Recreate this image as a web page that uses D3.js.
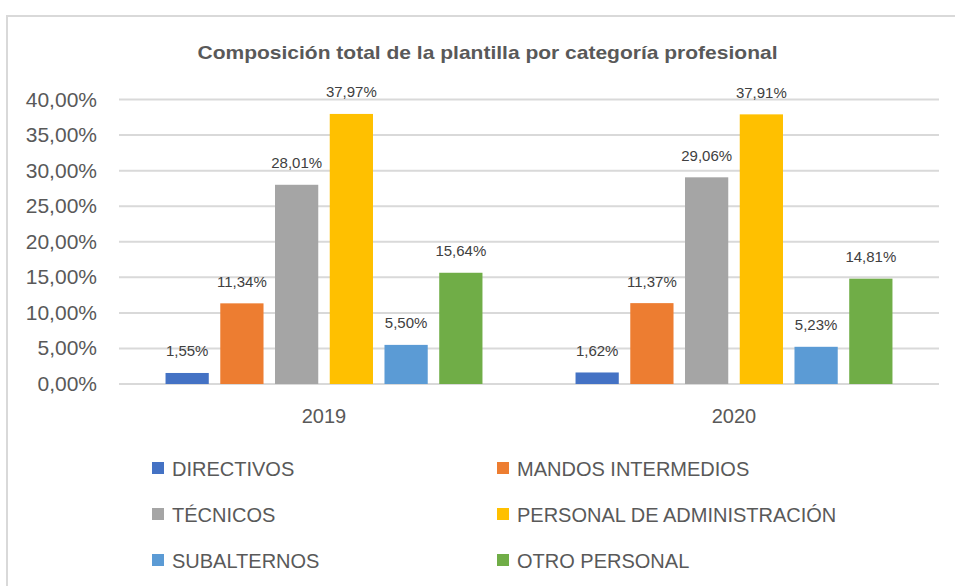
<!DOCTYPE html>
<html><head><meta charset="utf-8">
<script src="https://cdn.jsdelivr.net/npm/d3@7"></script>
<style>body{margin:0;background:#fff;}svg{display:block;}</style>
</head><body>
<script>
const years = ["2019", "2020"];
const categories = ["DIRECTIVOS", "MANDOS INTERMEDIOS", "TÉCNICOS", "PERSONAL DE ADMINISTRACIÓN", "SUBALTERNOS", "OTRO PERSONAL"];
const values2019 = [1.55, 11.34, 28.01, 37.97, 5.50, 15.64];
const values2020 = [1.62, 11.37, 29.06, 37.91, 5.23, 14.81];
const colors = ["#4472C4", "#ED7D31", "#A5A5A5", "#FFC000", "#5B9BD5", "#70AD47"];
const yTicks = [0, 5, 10, 15, 20, 25, 30, 35, 40];
const title = "Composición total de la plantilla por categoría profesional";

(function () {
const W = 955, H = 586;
const font = "'Liberation Sans', Arial, sans-serif";
const textColor = "#595959";
const svg = d3.select("body").append("svg").attr("width", W).attr("height", H);

// frame
svg.append("rect").attr("x", 7).attr("y", 16).attr("width", W + 10).attr("height", H + 10)
  .attr("fill", "#fff").attr("stroke", "#d9d9d9").attr("stroke-width", 2);

svg.append("text").attr("x", 487.5).attr("y", 59).attr("text-anchor", "middle")
  .attr("font-family", font).attr("font-weight", "bold").attr("font-size", 19)
  .attr("fill", textColor).attr("textLength", 580).attr("lengthAdjust", "spacingAndGlyphs")
  .text(title);

const pLeft = 119, pRight = 939, pTop = 99.5, pBottom = 384;
const y = d3.scaleLinear().domain([0, 40]).range([pBottom, pTop]);
const x0 = d3.scaleBand().domain(years).range([pLeft, pRight]).paddingInner(0.227).paddingOuter(0.1135);
const x1 = d3.scaleBand().domain(categories).range([0, x0.bandwidth()]).paddingInner(0.21).paddingOuter(0);

const data = years.map((yr, i) => ({year: yr, values: (i === 0 ? values2019 : values2020)}));

// gridlines
svg.append("g").selectAll("line").data(yTicks).join("line")
  .attr("x1", pLeft).attr("x2", pRight)
  .attr("y1", d => y(d)).attr("y2", d => y(d))
  .attr("stroke", "#d9d9d9").attr("stroke-width", 2);

// y tick labels
const fmt = d => d.toFixed(2).replace(".", ",") + "%";
svg.append("g").selectAll("text").data(yTicks).join("text")
  .attr("x", 97).attr("y", d => y(d) + 7).attr("text-anchor", "end")
  .attr("font-family", font).attr("font-size", 21).attr("fill", textColor)
  .text(fmt);

// bars
const groups = svg.append("g").selectAll("g").data(data).join("g")
  .attr("transform", d => `translate(${x0(d.year)},0)`);
groups.selectAll("rect").data(d => d.values.map((v, i) => ({cat: categories[i], v, i}))).join("rect")
  .attr("x", d => x1(d.cat)).attr("width", x1.bandwidth())
  .attr("y", d => y(d.v)).attr("height", d => y(0) - y(d.v))
  .attr("fill", d => colors[d.i]);
groups.selectAll("text").data(d => d.values.map((v, i) => ({cat: categories[i], v, i}))).join("text")
  .attr("x", d => x1(d.cat) + x1.bandwidth() / 2).attr("y", d => y(d.v) - 16.5)
  .attr("text-anchor", "middle").attr("font-family", font).attr("font-size", 15)
  .attr("fill", "#404040").text(d => fmt(d.v));

// x labels
svg.append("g").selectAll("text").data(years).join("text")
  .attr("x", d => x0(d) + x0.bandwidth() / 2).attr("y", pBottom + 39)
  .attr("text-anchor", "middle").attr("font-family", font).attr("font-size", 20)
  .attr("fill", textColor).text(d => d);

// legend
const legX = [152, 497], legY = [468, 514, 560];
const leg = svg.append("g").selectAll("g").data(categories).join("g")
  .attr("transform", (d, i) => `translate(${legX[i % 2]},${legY[Math.floor(i / 2)]})`);
leg.append("rect").attr("x", 0).attr("y", -6).attr("width", 12).attr("height", 12)
  .attr("fill", (d, i) => colors[i]);
leg.append("text").attr("x", 20).attr("y", 8).attr("font-family", font).attr("font-size", 20)
  .attr("fill", textColor).text(d => d);
})();
</script>
</body></html>
